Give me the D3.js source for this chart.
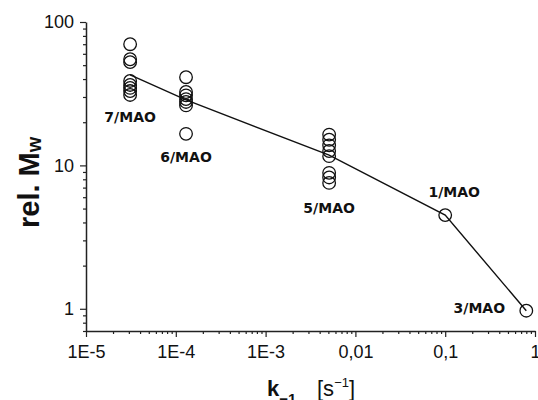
<!DOCTYPE html>
<html>
<head>
<meta charset="utf-8">
<script src="https://cdn.jsdelivr.net/npm/d3@7"></script>
<style>
  html, body { margin: 0; padding: 0; background: #fff; }
  svg { display: block; font-family: Arial, "Liberation Sans", sans-serif; }
  text { fill: #111; }
</style>
</head>
<body>
<svg id="chart" width="538" height="400"></svg>
<script>
// ---- data ----
const categories = ["7/MAO", "6/MAO", "5/MAO", "1/MAO", "3/MAO"];
const kValues = [3.1e-5, 1.3e-4, 5.1e-3, 0.1, 0.8];
const mw7 = [70, 55, 52.5, 38.8, 36.4, 34.7, 33.0, 31.0];
const mw6 = [41.2, 32.5, 30.8, 29.0, 27.7, 26.2, 16.6];
const mw5 = [16.4, 15.1, 13.8, 12.6, 11.6, 8.87, 8.24, 7.55];
const mw1 = [4.5];
const mw3 = [0.97];
const fitLine = [42.8, 28.6, 11.8, 4.5, 0.97];
const xTickValues = [1e-5, 1e-4, 1e-3, 1e-2, 1e-1, 1];
const xTickLabels = ["1E-5", "1E-4", "1E-3", "0,01", "0,1", "1"];
const yTickValues = [1, 10, 100];
const yTickLabels = ["1", "10", "100"];

const groups = [mw7, mw6, mw5, mw1, mw3];

// ---- scales ----
const svg = d3.select("#chart");
const x = d3.scaleLog().domain([1e-5, 1]).range([86, 535]);
const y = d3.scaleLog().domain([0.7, 100]).range([331, 22]);

// minor ticks
const xMinor = [];
for (let e = -5; e < 0; e++) for (let m = 2; m <= 9; m++) xMinor.push(m * Math.pow(10, e));
const yMinor = [0.7, 0.8, 0.9];
for (let e = 0; e < 2; e++) for (let m = 2; m <= 9; m++) yMinor.push(m * Math.pow(10, e));

// ---- axes ----
const gx = svg.append("g").attr("transform", "translate(0,331)");
gx.call(d3.axisBottom(x).tickValues(xMinor).tickSize(3).tickSizeOuter(0).tickFormat(""));
gx.call(g => g.select(".domain").remove());
const gx2 = svg.append("g").attr("transform", "translate(0,331)");
gx2.call(d3.axisBottom(x).tickValues(xTickValues).tickSize(6).tickSizeOuter(0)
  .tickFormat((d, i) => xTickLabels[i]).tickPadding(8));

const gy = svg.append("g").attr("transform", "translate(86,0)");
gy.call(d3.axisLeft(y).tickValues(yMinor).tickSize(3).tickSizeOuter(0).tickFormat(""));
gy.call(g => g.select(".domain").remove());
const gy2 = svg.append("g").attr("transform", "translate(86,0)");
gy2.call(d3.axisLeft(y).tickValues(yTickValues).tickSize(6).tickSizeOuter(0)
  .tickFormat((d, i) => yTickLabels[i]).tickPadding(6));

svg.selectAll(".domain").attr("stroke", "#222").attr("stroke-width", 1.5);
svg.selectAll(".tick line").attr("stroke", "#222").attr("stroke-width", 1.2);
svg.selectAll(".tick text")
  .style("font-size", "18px")
  .style("font-family", 'Arial, "Liberation Sans", sans-serif')
  .attr("fill", "#111");

// ---- circles ----
groups.forEach((vals, gi) => {
  svg.append("g").selectAll("circle").data(vals).join("circle")
    .attr("cx", x(kValues[gi]))
    .attr("cy", d => y(d))
    .attr("r", 6.3)
    .attr("fill", "none")
    .attr("stroke", "#111")
    .attr("stroke-width", 1.3);
});

// ---- line ----
const lineGen = d3.line().x((d, i) => x(kValues[i])).y(d => y(d));
svg.append("path").datum(fitLine)
  .attr("d", lineGen)
  .attr("fill", "none").attr("stroke", "#111").attr("stroke-width", 1.4);

// ---- labels ----
const labelPos = [
  { dx: 0, dy: 122 },
  { dx: 0, dy: 162 },
  { dx: 0, dy: 213 },
  { dx: 9, dy: 197 },
  { dx: -47, dy: 313 }
];
categories.forEach((c, i) => {
  svg.append("text")
    .attr("x", x(kValues[i]) + labelPos[i].dx)
    .attr("y", labelPos[i].dy)
    .attr("text-anchor", "middle")
    .style("font-family", '"DejaVu Sans", sans-serif')
    .style("font-weight", "bold")
    .style("font-size", "14px")
    .text(c);
});

// ---- y axis title ----
const yt = svg.append("text")
  .attr("transform", "translate(39,228) rotate(-90)")
  .style("font-weight", "bold").style("font-size", "29px");
yt.append("tspan").text("rel. M");
yt.append("tspan").style("font-size", "20px").attr("dy", 2).text("w");

// ---- x axis title ----
const xt = svg.append("text").attr("x", 267).attr("y", 396).style("font-size", "22px");
xt.append("tspan").style("font-weight", "bold").text("k");
xt.append("tspan").style("font-weight", "bold").style("font-size", "15px").attr("dy", 8).text("\u22121");
xt.append("tspan").attr("x", 317).attr("dy", -8).text("[s");
xt.append("tspan").style("font-size", "13px").attr("dy", -9).text("\u22121");
xt.append("tspan").attr("dy", 9).text("]");
</script>
</body>
</html>
